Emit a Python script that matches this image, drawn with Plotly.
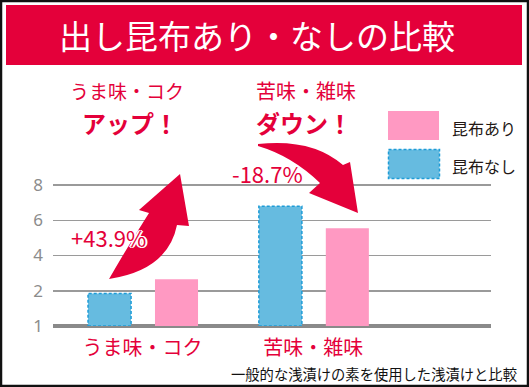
import plotly.graph_objects as go

# ---- data ----
categories = ["うま味・コク", "苦味・雑味"]
with_kombu = [2.66, 5.55]      # 昆布あり (pink)
without_kombu = [1.85, 6.8]    # 昆布なし (blue)
series_names = ["昆布あり", "昆布なし"]
tick_vals = [0, 2, 4, 6, 8]
tick_text = ["1", "2", "4", "6", "8"]
title_text = "出し昆布あり・なしの比較"
changes = ["+43.9%", "-18.7%"]
headlines = [("うま味・コク", "アップ！"), ("苦味・雑味", "ダウン！")]
footnote = "一般的な浅漬けの素を使用した浅漬けと比較"

# ---- style ----
W, H = 529, 387
ML, MR, MT, MB = 53, 38, 178, 61
PW, PH = W - ML - MR, H - MT - MB
RED = "#E4003A"
PINK = "#FF99C2"
BLUE = "#66BBE0"
BLUE_EDGE = "#1E9CD7"
FONT = "Noto Sans CJK JP"
BAR_W = 0.252
OFF_BLUE = -0.319
OFF_PINK = 0.073
DASH = "3px,2px"


def px(x):
    return (x - ML) / PW


def py(y):
    return (H - MB - y) / PH


def path(points_cmds):
    out = []
    for c in points_cmds:
        if isinstance(c, str):
            out.append(c)
        else:
            out.append(f"{px(c[0]):.4f},{py(c[1]):.4f}")
    return " ".join(out)


fig = go.Figure()
fig.add_trace(go.Bar(
    x=categories, y=without_kombu, name=series_names[1],
    marker=dict(color=BLUE, line=dict(width=0)),
    width=BAR_W, offset=OFF_BLUE, showlegend=False, hoverinfo="skip",
))
fig.add_trace(go.Bar(
    x=categories, y=with_kombu, name=series_names[0],
    marker=dict(color=PINK, line=dict(width=0)),
    width=BAR_W, offset=OFF_PINK, showlegend=False, hoverinfo="skip",
))

shapes = []
# dashed outlines for the 昆布なし bars
for i, v in enumerate(without_kombu):
    shapes.append(dict(type="rect", xref="x", yref="y",
                       x0=i + OFF_BLUE, x1=i + OFF_BLUE + BAR_W, y0=0, y1=v,
                       line=dict(color=BLUE_EDGE, width=1.5, dash=DASH),
                       fillcolor="rgba(0,0,0,0)", layer="above"))

# outer frame
shapes.append(dict(type="rect", xref="paper", yref="paper",
                   x0=px(1), x1=px(W - 1), y0=py(1), y1=py(H - 1),
                   line=dict(color="#111", width=2.5), fillcolor="rgba(0,0,0,0)"))
# title banner
shapes.append(dict(type="rect", xref="paper", yref="paper",
                   x0=px(6), x1=px(522), y0=py(5), y1=py(65),
                   line=dict(width=0), fillcolor=RED))
# legend swatches
shapes.append(dict(type="rect", xref="paper", yref="paper",
                   x0=px(388), x1=px(439), y0=py(111), y1=py(140),
                   line=dict(width=0), fillcolor=PINK))
shapes.append(dict(type="rect", xref="paper", yref="paper",
                   x0=px(388.5), x1=px(439.5), y0=py(149.5), y1=py(178.5),
                   line=dict(color=BLUE_EDGE, width=1.5, dash=DASH), fillcolor=BLUE))
# up arrow
up = path(["M", (109, 279), "Q", (128, 246), (149, 213), "L", (139, 210), "L", (180, 174),
           "L", (189, 226), "L", (177, 225), "Q", (168, 270), (109, 279), "Z"])
shapes.append(dict(type="path", xref="paper", yref="paper", path=up,
                   fillcolor=RED, line=dict(width=0), layer="above"))
# down arrow
down = path(["M", (258, 144), "Q", (312, 138), (343, 165), "L", (350, 162), "L", (358, 213),
             "L", (309, 193), "L", (320, 183), "Q", (292, 156), (258, 146), "Z"])
shapes.append(dict(type="path", xref="paper", yref="paper", path=down,
                   fillcolor=RED, line=dict(width=0), layer="above"))

ann = []


def text(x, y, t, size, color, xanchor="center", bold=False, shadow=None):
    f = dict(family=FONT, size=size, color=color, weight=700 if bold else 400)
    if shadow:
        f["shadow"] = shadow
    ann.append(dict(xref="paper", yref="paper", x=px(x), y=py(y), text=t,
                    showarrow=False, xanchor=xanchor, yanchor="middle", font=f))


text(257, 35, title_text, 33, "white")
text(127, 90, headlines[0][0], 19, RED)
text(130, 122, headlines[0][1], 24, RED, bold=True)
text(306, 90, headlines[1][0], 20, RED)
text(304, 122, headlines[1][1], 24, RED, bold=True)
WS = "1px 1px 0 white, -1px -1px 0 white, 1px -1px 0 white, -1px 1px 0 white, 2px 0 0 white, -2px 0 0 white"
text(108, 237, changes[0], 22, RED, shadow=WS)
text(267, 173, changes[1], 22, RED, shadow=WS)
text(450, 128, series_names[0], 16, "#231815", xanchor="left")
text(450, 166, series_names[1], 16, "#231815", xanchor="left")
text(519, 373, footnote, 14.3, "#111", xanchor="right")

fig.update_layout(
    width=W, height=H,
    margin=dict(l=ML, r=MR, t=MT, b=MB, pad=0),
    paper_bgcolor="white", plot_bgcolor="white",
    barmode="overlay",
    shapes=shapes, annotations=ann,
    showlegend=False, hovermode=False,
    xaxis=dict(type="category", range=[-0.524, 2.04], showgrid=False, zeroline=False,
               showline=False, ticks="", tickfont=dict(family=FONT, size=20, color=RED),
               ticklabelstandoff=8),
    yaxis=dict(range=[0, 8.4], tickvals=tick_vals, ticktext=tick_text,
               showgrid=True, gridcolor="#9a9a9a", gridwidth=1.5,
               zeroline=True, zerolinecolor="#8a8a8a", zerolinewidth=3.5,
               showline=False, ticks="",
               tickfont=dict(family="Noto Sans", size=17, color="#8c8c8c"),
               ticklabelstandoff=9),
)

fig.write_html("out.html", config={"displayModeBar": False, "staticPlot": True})
with open("out.html", encoding="utf-8") as f:
    html = f.read()
html = html.replace("<head>", "<head><style>html,body{margin:0;padding:0;overflow:hidden}</style>", 1)
with open("out.html", "w", encoding="utf-8") as f:
    f.write(html)
